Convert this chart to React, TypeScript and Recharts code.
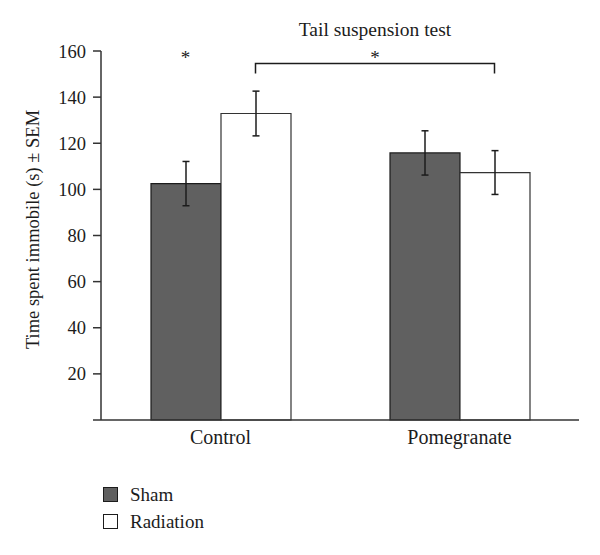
import { BarChart, Bar, XAxis, YAxis, ErrorBar, Legend, ReferenceLine, ReferenceDot } from 'recharts';

const categories = ['Control', 'Pomegranate'];
const sham = [102.5, 115.8];
const shamErr = [9.6, 9.6];
const radiation = [132.9, 107.3];
const radiationErr = [9.7, 9.5];
const yTicks = [0, 20, 40, 60, 80, 100, 120, 140, 160];
const bracketLevel = 154.6;
const seriesOrder = ['Sham', 'Radiation'];

const data = categories.map((name, i) => ({
  name,
  sham: sham[i],
  shamErr: shamErr[i],
  radiation: radiation[i],
  radiationErr: radiationErr[i],
}));

const FONT = 'Liberation Serif, DejaVu Serif, serif';
const BAR = 70;
const INK = '#1c1c1c';

const Bracket = (props: any) => {
  const { x1, x2, y1 } = props;
  const a = x1 + BAR / 2;
  const b = x2 + BAR / 2;
  return (
    <g>
      <path d={`M${a},${y1 + 10}V${y1}H${b}V${y1 + 10}`} fill="none" stroke={INK} strokeWidth={1.5} />
      <text x={(a + b) / 2} y={y1 + 1} textAnchor="middle" fontSize={19} style={{ fontFamily: FONT }} fill={INK}>*</text>
      <text x={(a + b) / 2} y={y1 - 27} textAnchor="middle" fontSize={19.5} style={{ fontFamily: FONT }} fill={INK}>Tail suspension test</text>
    </g>
  );
};

const Star = (props: any) => (
  <text x={props.cx - BAR / 2} y={props.cy + 1} textAnchor="middle" fontSize={19} style={{ fontFamily: FONT }} fill={INK}>*</text>
);

const YLabel = (props: any) => {
  const { x, y, height } = props.viewBox;
  const cx = x + 33;
  const cy = y + height / 2 - 6;
  return (
    <text x={cx} y={cy} transform={`rotate(-90 ${cx} ${cy})`} textAnchor="middle" dominantBaseline="central" fontSize={18.5} style={{ fontFamily: FONT }} fill={INK}>
      Time spent immobile (s) ± SEM
    </text>
  );
};

const LegendBox = (props: any) => {
  const items = [...(props.payload || [])].sort((a: any, b: any) => seriesOrder.indexOf(a.value) - seriesOrder.indexOf(b.value));
  return (
    <div style={{ fontFamily: FONT, fontSize: 19, color: INK }}>
      {items.map((p: any) => (
        <div key={p.value} style={{ display: 'flex', alignItems: 'center', height: 27 }}>
          <span style={{ width: 13, height: 13, border: `1.5px solid ${INK}`, background: p.color, marginRight: 12 }} />
          <span>{p.value}</span>
        </div>
      ))}
    </div>
  );
};

export default function App() {
  return (
    <div style={{ position: 'absolute', left: 0, top: 0, width: 600, height: 555, background: '#fff', fontFamily: FONT }}>
      <BarChart width={600} height={555} data={data} margin={{ top: 51, right: 21, left: 0, bottom: 105 }} barGap={0} barSize={BAR} style={{ fontFamily: FONT }}>
        <XAxis
          dataKey="name"
          tickLine={false}
          tickSize={0}
          tickMargin={10}
          axisLine={{ stroke: '#333', strokeWidth: 1.5 }}
          tick={{ fontSize: 20, fill: INK, style: { fontFamily: FONT } }}
          height={30}
        />
        <YAxis
          domain={[0, 160]}
          ticks={yTicks}
          interval={0}
          width={101}
          tickSize={8}
          tickMargin={7}
          tickFormatter={(v: number) => (v === 0 ? '' : String(v))}
          axisLine={{ stroke: '#333', strokeWidth: 1.5 }}
          tickLine={{ stroke: '#333', strokeWidth: 1.5 }}
          tick={{ fontSize: 18.5, fill: INK, style: { fontFamily: FONT } }}
          label={<YLabel />}
        />
        <Bar dataKey="sham" name="Sham" fill="#606060" stroke={INK} strokeWidth={1.2} isAnimationActive={false}>
          <ErrorBar dataKey="shamErr" width={3.5} stroke={INK} strokeWidth={1.5} />
        </Bar>
        <Bar dataKey="radiation" name="Radiation" fill="#ffffff" stroke="#333" strokeWidth={1.2} isAnimationActive={false}>
          <ErrorBar dataKey="radiationErr" width={3.5} stroke={INK} strokeWidth={1.5} />
        </Bar>
        <ReferenceLine
          segment={[{ x: 'Control', y: bracketLevel }, { x: 'Pomegranate', y: bracketLevel }]}
          shape={<Bracket />}
          ifOverflow="visible"
        />
        <ReferenceDot x="Control" y={bracketLevel} shape={<Star />} ifOverflow="visible" />
        <Legend
          layout="horizontal"
          align="center"
          verticalAlign="middle"
          content={<LegendBox />}
          wrapperStyle={{ left: 103, top: 481, width: 'auto' }}
        />
      </BarChart>
    </div>
  );
}
